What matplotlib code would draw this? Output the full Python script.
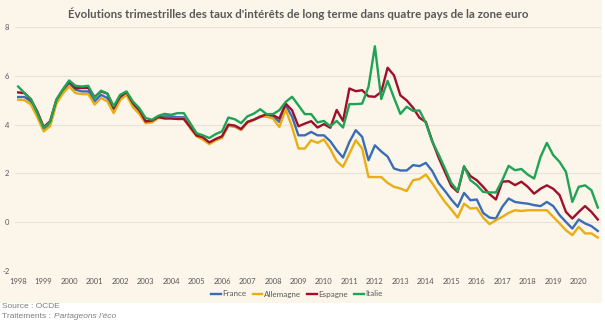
import matplotlib
matplotlib.use("Agg")
import matplotlib.pyplot as plt
from matplotlib.patches import Rectangle

# ---- data (quarterly, 1998Q1 - 2020Q4) ----
years = list(range(1998, 2021))
series_names = ["France", "Allemagne", "Espagne", "Italie"]

france = [5.13, 5.13, 4.95, 4.40, 3.82, 4.00, 4.95, 5.36, 5.70, 5.43, 5.36, 5.36, 4.95, 5.22, 5.09, 4.61,
          5.09, 5.29, 4.82, 4.54, 4.13, 4.16, 4.30, 4.34, 4.34, 4.30, 4.30, 3.90, 3.60,
          3.42, 3.25, 3.38, 3.50, 3.95, 3.92, 3.78,
          4.11, 4.20, 4.34, 4.38, 4.34, 4.11, 4.80, 4.32, 3.56, 3.56, 3.70, 3.56, 3.56, 3.32, 2.95,
          2.65, 3.29, 3.77, 3.50, 2.54, 3.15, 2.90, 2.69, 2.20, 2.12, 2.12, 2.34, 2.30, 2.43, 2.10, 1.60,
          1.28, 0.93, 0.63, 1.20, 0.90, 0.93, 0.38, 0.19, 0.15, 0.63, 0.97, 0.83, 0.79, 0.76,
          0.70, 0.66, 0.83, 0.66, 0.29, 0.01, -0.26, 0.11, -0.05, -0.16, -0.36]

allemagne = [5.02, 5.00, 4.82, 4.31, 3.72, 3.93, 4.86, 5.27, 5.56, 5.29, 5.25, 5.25, 4.82, 5.09, 4.95, 4.47,
             5.00, 5.22, 4.72, 4.44, 4.06, 4.09, 4.27, 4.27, 4.27, 4.24, 4.24, 3.86, 3.52,
             3.38, 3.20, 3.35, 3.45, 3.98, 3.93, 3.78,
             4.08, 4.20, 4.32, 4.32, 4.25, 3.90, 4.62, 3.90, 3.02, 3.02, 3.36, 3.25, 3.39, 3.00, 2.50,
             2.27, 2.81, 3.36, 3.02, 1.85, 1.85, 1.85, 1.61, 1.45, 1.38, 1.28, 1.72, 1.77, 1.95, 1.60, 1.20,
             0.83, 0.52, 0.19, 0.76, 0.56, 0.58, 0.19, -0.08, 0.08, 0.22, 0.38, 0.49, 0.46, 0.49,
             0.49, 0.49, 0.49, 0.22, -0.05, -0.33, -0.53, -0.19, -0.46, -0.46, -0.63]

espagne = [5.32, 5.29, 5.02, 4.54, 3.90, 4.13, 5.02, 5.43, 5.77, 5.50, 5.50, 5.50, 5.13, 5.36, 5.27, 4.68,
           5.15, 5.33, 4.88, 4.61, 4.13, 4.16, 4.31, 4.25, 4.25, 4.23, 4.23, 3.90, 3.55,
           3.48, 3.27, 3.41, 3.52, 4.00, 3.96, 3.82,
           4.11, 4.20, 4.32, 4.43, 4.39, 4.25, 4.86, 4.59, 3.93, 4.04, 4.14, 3.88, 4.02, 3.87, 4.60,
           4.15, 5.48, 5.37, 5.41, 5.16, 5.14, 5.34, 6.33, 6.02, 5.20, 4.99, 4.69, 4.28, 4.11, 3.33, 2.65,
           2.06, 1.48, 1.24, 2.27, 1.89, 1.72, 1.45, 1.15, 0.93, 1.66, 1.68, 1.52, 1.66, 1.45,
           1.17, 1.37, 1.51, 1.37, 1.11, 0.42, 0.15, 0.42, 0.66, 0.42, 0.11]

italie = [5.56, 5.29, 5.05, 4.47, 3.86, 4.10, 5.02, 5.43, 5.81, 5.59, 5.56, 5.59, 5.09, 5.39, 5.27, 4.75,
          5.22, 5.36, 4.95, 4.68, 4.27, 4.20, 4.36, 4.44, 4.40, 4.47, 4.47, 4.06, 3.65,
          3.56, 3.45, 3.61, 3.72, 4.29, 4.22, 4.06,
          4.34, 4.45, 4.63, 4.43, 4.43, 4.59, 4.93, 5.14, 4.79, 4.43, 4.43, 4.09, 4.15, 3.93, 4.15,
          3.88, 4.84, 4.84, 4.86, 5.55, 7.21, 5.05, 5.79, 5.10, 4.44, 4.73, 4.56, 4.58, 4.07, 3.30, 2.78,
          2.20, 1.61, 1.28, 2.30, 1.72, 1.52, 1.24, 1.22, 1.22, 1.72, 2.31, 2.13, 2.18, 1.95,
          1.79, 2.67, 3.25, 2.75, 2.47, 2.06, 0.83, 1.45, 1.51, 1.31, 0.60]

colors = ["#3A6DB5", "#E8AE14", "#9E1029", "#1FA354"]
title = "Évolutions trimestrilles des taux d'intérêts de long terme dans quatre pays de la zone euro"

# ---- figure ----
W, H = 605, 323
plt.rcParams['font.family'] = ['Lato', 'DejaVu Sans']
fig = plt.figure(figsize=(W / 100, H / 100), dpi=100, facecolor="white")
fig.patches.append(Rectangle((0, (H - 303) / H), 602 / W, 303 / H, transform=fig.transFigure,
                             facecolor="#FBF5EA", edgecolor="none", zorder=-10))

ax = fig.add_axes([15 / W, (H - 271) / H, (601 - 15) / W, (271 - 27) / H])
ax.set_facecolor("none")

n = len(france)
xs = list(range(n))
for data, color, name in zip([france, allemagne, espagne, italie], colors, series_names):
    ax.plot(xs, data, color=color, lw=1.7, label=name, solid_joinstyle="round")

ax.set_xlim(-0.5, n - 0.5)
ax.set_ylim(-2, 8)
ax.set_yticks([-2, 0, 2, 4, 6, 8])
ax.set_yticklabels(["-2", "0", "2", "4", "6", "8"])
ax.set_xticks(list(range(0, n, 4)))
ax.set_xticklabels([str(y) for y in years])
ax.grid(axis="y", color="#E8E2D8", lw=0.8)
ax.set_axisbelow(True)
ax.tick_params(axis="both", length=0, labelsize=5.5, colors="#595959")
ax.tick_params(axis="y", pad=4)
ax.tick_params(axis="x", pad=5)
for s in ax.spines.values():
    s.set_visible(False)

fig.text(298 / W, 1 - 14 / H, title, ha="center", va="center", fontsize=8.3,
         fontweight="bold", color="#595959")

fig.legend(loc="center", bbox_to_anchor=(297 / W, 1 - 294 / H), ncol=4, frameon=False,
           fontsize=5.8, handlelength=1.2, handletextpad=0.25, columnspacing=0.7,
           labelcolor="#595959")

fig.text(2 / W, 1 - 307 / H, "Source : OCDE", ha="left", va="center", fontsize=6,
         color="#7F7F7F", family="Liberation Sans")
fig.text(2 / W, 1 - 317 / H, "Traitements : ", ha="left", va="center", fontsize=6,
         color="#7F7F7F", family="Liberation Sans")
fig.text(54 / W, 1 - 317 / H, "Partageons l'éco", ha="left", va="center", fontsize=6,
         color="#7F7F7F", family="Liberation Sans", style="italic")

fig.savefig("out.png", dpi=100, facecolor="white")
